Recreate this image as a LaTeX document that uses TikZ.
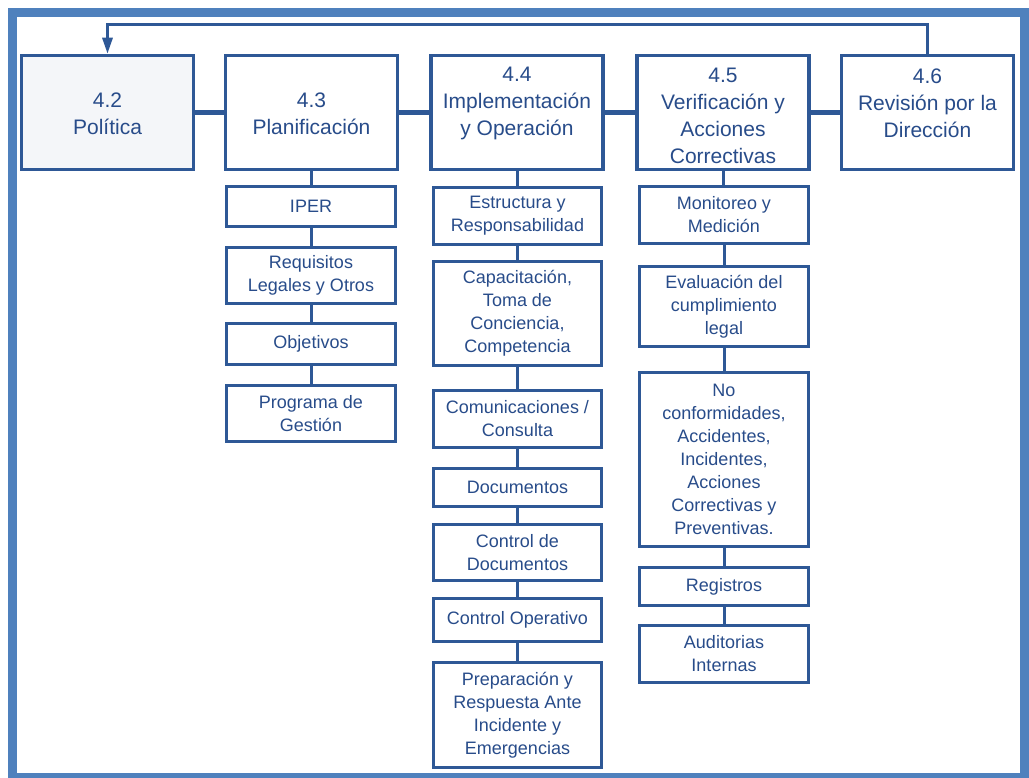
\documentclass[tikz,border=0pt]{standalone}
\usepackage{fontspec}
\setmainfont{Liberation Sans}
\usetikzlibrary{arrows.meta}
\definecolor{boxblue}{RGB}{46,88,150}
\definecolor{txtblue}{RGB}{40,76,138}
\definecolor{frameblue}{RGB}{79,129,189}
\definecolor{polfill}{RGB}{244,246,249}
\begin{document}
\begin{tikzpicture}[x=1pt,y=-1pt,
  topbox/.style={draw=boxblue, line width=3.5pt, fill=white, inner sep=0pt, minimum width=172pt, minimum height=114pt},
  subbox/.style={draw=boxblue, line width=3.2pt, fill=white, align=center, inner sep=0pt, text=txtblue, font=\fontsize{18}{23}\selectfont},
  toptext/.style={align=center, text=txtblue, font=\fontsize{21}{27}\selectfont},
  link/.style={draw=boxblue, line width=3pt},
  hlink/.style={draw=boxblue, line width=4.5pt},
  fb/.style={draw=boxblue, line width=3pt, -{Triangle[width=10pt,length=16pt]}},
]
\useasboundingbox (0,0) rectangle (1029,778);
\fill[white] (0,0) rectangle (1029,778);
\draw[frameblue, line width=8.5pt] (12.5,12.5) rectangle (1024.5,777);

% top row
\node[topbox, fill=polfill] (b42) at (107.5,112.5) {};
\node[topbox] (b43) at (311.5,112.5) {};
\node[topbox] (b44) at (517,112.5) {};
\node[topbox] (b45) at (723,112.5) {};
\node[topbox] (b46) at (927.5,112.5) {};
\node[toptext] (t42) at (107.5,114) {4.2\\Política};
\node[toptext] (t43) at (311.5,114) {4.3\\Planificación};
\node[toptext] (t44) at (517,103) {4.4\\Implementación\\y Operación};
\node[toptext] (t45) at (723,116) {4.5\\Verificación y\\Acciones\\Correctivas};
\node[toptext] (t46) at (927.5,103) {4.6\\Revisión por la\\Dirección};

\draw[hlink] (b42.east) -- (b43.west);
\draw[hlink] (b43.east) -- (b44.west);
\draw[hlink] (b44.east) -- (b45.west);
\draw[hlink] (b45.east) -- (b46.west);

\coordinate (fbtop) at (0,25);
\draw[fb] (b46.north) -- (b46.north |- fbtop) -| (b42.north);

% column 4.3
\node[subbox, minimum width=169pt, minimum height=40pt] (iper) at (311,206.5) {IPER};
\node[subbox, minimum width=169pt, minimum height=56pt] (req) at (311,275.5) {Requisitos\\Legales y Otros};
\node[subbox, minimum width=169pt, minimum height=41pt] (obj) at (311,344) {Objetivos};
\node[subbox, minimum width=169pt, minimum height=56pt] (prog) at (311,413.5) {Programa de\\Gestión};
\draw[link] (b43.south) -- (b43.south |- iper.north);
\draw[link] (iper.south) -- (req.north);
\draw[link] (req.south) -- (obj.north);
\draw[link] (obj.south) -- (prog.north);

% column 4.4
\node[subbox, minimum width=168pt, minimum height=57pt] (est) at (517.5,216) {Estructura y\\Responsabilidad};
\node[subbox, minimum width=168pt, minimum height=104pt] (cap) at (517.5,313.5) {Capacitación,\\Toma de\\Conciencia,\\Competencia};
\node[subbox, minimum width=168pt, minimum height=57pt] (com) at (517.5,419) {Comunicaciones /\\Consulta};
\node[subbox, minimum width=168pt, minimum height=38pt] (doc) at (517.5,487.5) {Documentos};
\node[subbox, minimum width=168pt, minimum height=56pt] (cdoc) at (517.5,552.5) {Control de\\Documentos};
\node[subbox, minimum width=168pt, minimum height=43pt] (cop) at (517.5,620) {Control Operativo};
\node[subbox, minimum width=168pt, minimum height=105pt] (prep) at (517.5,715) {Preparación y\\Respuesta Ante\\Incidente y\\Emergencias};
\draw[link] (b44.south) -- (b44.south |- est.north);
\draw[link] (est.south) -- (cap.north);
\draw[link] (cap.south) -- (com.north);
\draw[link] (com.south) -- (doc.north);
\draw[link] (doc.south) -- (cdoc.north);
\draw[link] (cdoc.south) -- (cop.north);
\draw[link] (cop.south) -- (prep.north);

% column 4.5
\node[subbox, minimum width=169pt, minimum height=57pt] (mon) at (724,215) {Monitoreo y\\Medición};
\node[subbox, minimum width=169pt, minimum height=80pt] (eva) at (724,306.5) {Evaluación del\\cumplimiento\\legal};
\node[subbox, minimum width=169pt, minimum height=174pt] (nc) at (724,459.5) {No\\conformidades,\\Accidentes,\\Incidentes,\\Acciones\\Correctivas y\\Preventivas.};
\node[subbox, minimum width=169pt, minimum height=38pt] (reg) at (724,586.5) {Registros};
\node[subbox, minimum width=169pt, minimum height=57pt] (aud) at (724,654) {Auditorias\\Internas};
\draw[link] (b45.south) -- (b45.south |- mon.north);
\draw[link] (mon.south) -- (eva.north);
\draw[link] (eva.south) -- (nc.north);
\draw[link] (nc.south) -- (reg.north);
\draw[link] (reg.south) -- (aud.north);
\end{tikzpicture}
\end{document}
